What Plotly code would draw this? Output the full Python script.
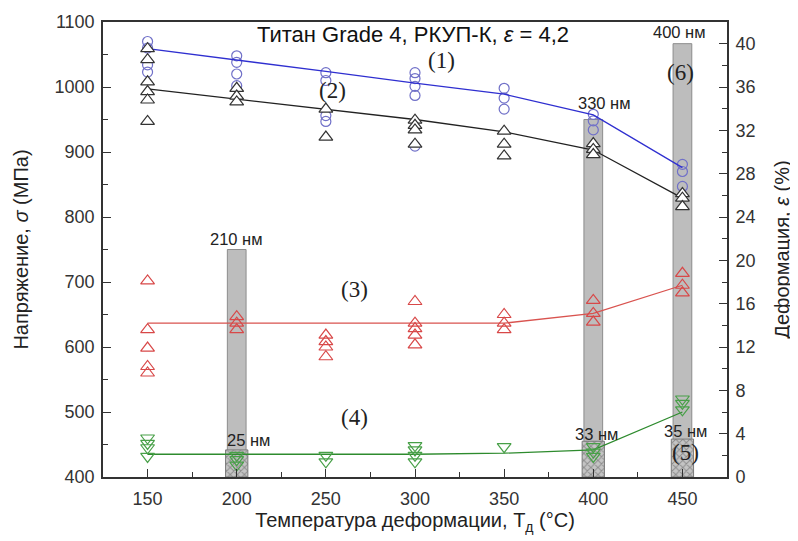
import plotly.graph_objects as go

# ---------------- data ----------------
temps = [150, 200, 250, 300, 350, 400, 450]

# (1) blue circles, stress (MPa)
sigma1_pts = [
    [1070, 1060, 1034, 1023],
    [1048, 1038, 1020, 1002],
    [1022, 1010, 956, 947],
    [1022, 1013, 1001, 987, 909],
    [998, 983, 966],
    [958, 948, 934],
    [881, 870, 847],
]
sigma1_fit = [1059, 1042, 1024, 1006, 989, 957, 876]

# (2) black triangles, stress (MPa)
sigma2_pts = [
    [1059, 1042, 1008, 993, 980, 947],
    [998, 986, 977],
    [966, 923],
    [949, 941, 934, 912],
    [932, 912, 894],
    [913, 904, 896],
    [836, 829, 816],
]
sigma2_fit = [997, 981, 966, 950, 931, 903, 829]

# (3) red triangles, deformation (%)
eps3_pts = [
    [18.1, 13.6, 11.9, 10.2, 9.6],
    [14.8, 14.2, 13.6],
    [13.1, 12.5, 12.0, 11.1],
    [16.2, 14.2, 13.7, 13.1, 12.2],
    [15.0, 14.2, 13.6],
    [16.3, 15.1, 14.3],
    [18.8, 17.7, 17.0],
]
eps3_fit = [14.2, 14.2, 14.2, 14.2, 14.2, 15.1, 17.7]

# (4) green down-triangles, deformation (%)
eps4_pts = [
    [3.6, 3.1, 2.7, 1.9],
    [2.0, 1.6, 1.1],
    [2.0, 1.4],
    [2.9, 2.5, 2.0, 1.4],
    [2.8],
    [2.8, 2.3, 1.9],
    [7.2, 6.8, 6.2],
]
eps4_fit = [2.1, 2.1, 2.1, 2.1, 2.2, 2.5, 6.0]

# grain sizes (bars, nm/10 on right axis)
bar_T = [200, 400, 450]
grain_large = [21, 33, 40]
grain_large_lbl = ["210 нм", "330 нм", "400 нм"]
grain_small = [2.5, 3.3, 3.5]
grain_small_lbl = ["25 нм", "33 нм", "35 нм"]


def flat(pts):
    xs, ys = [], []
    for t, vals in zip(temps, pts):
        for v in vals:
            xs.append(t)
            ys.append(v)
    return xs, ys


FONT = "Arial, 'Liberation Sans', sans-serif"
SERIF = "'Times New Roman', 'Liberation Serif', serif"

fig = go.Figure()

# bars (right axis = primary 'y', drawn beneath)
fig.add_trace(go.Bar(x=bar_T, y=grain_large, width=10.5, yaxis="y",
                     marker=dict(color="#bdbdbd", line=dict(color="#8c8c8c", width=1)),
                     showlegend=False))
fig.add_trace(go.Bar(x=bar_T, y=grain_small, width=12.5, yaxis="y",
                     marker=dict(color="#c4c4c4",
                                 line=dict(color="#7a7a7a", width=1),
                                 pattern=dict(shape="x", fgcolor="#555555",
                                              bgcolor="#c4c4c4", size=5, solidity=0.35)),
                     showlegend=False))

# (3) red
x3, y3 = flat(eps3_pts)
fig.add_trace(go.Scatter(x=temps, y=eps3_fit, mode="lines", yaxis="y",
                         line=dict(color="#d9534f", width=1.3), showlegend=False))
fig.add_trace(go.Scatter(x=x3, y=y3, mode="markers", yaxis="y",
                         marker=dict(symbol="triangle-up-open", size=12,
                                     color="#d84848", line=dict(width=1.2)),
                         showlegend=False))
# (4) green
x4, y4 = flat(eps4_pts)
fig.add_trace(go.Scatter(x=temps, y=eps4_fit, mode="lines", yaxis="y",
                         line=dict(color="#2e8b2e", width=1.3), showlegend=False))
fig.add_trace(go.Scatter(x=x4, y=y4, mode="markers", yaxis="y",
                         marker=dict(symbol="triangle-down-open", size=12,
                                     color="#48a048", line=dict(width=1.2)),
                         showlegend=False))

# (1) blue on stress axis (y2, left)
x1, y1 = flat(sigma1_pts)
fig.add_trace(go.Scatter(x=x1, y=y1, mode="markers", yaxis="y2",
                         marker=dict(symbol="circle-open", size=10,
                                     color="#7070c8", line=dict(width=1.2)),
                         showlegend=False))
fig.add_trace(go.Scatter(x=temps, y=sigma1_fit, mode="lines", yaxis="y2",
                         line=dict(color="#2f2fd0", width=1.3), showlegend=False))
# (2) black
x2, y2 = flat(sigma2_pts)
fig.add_trace(go.Scatter(x=temps, y=sigma2_fit, mode="lines", yaxis="y2",
                         line=dict(color="#222222", width=1.3), showlegend=False))
fig.add_trace(go.Scatter(x=x2, y=y2, mode="markers", yaxis="y2",
                         marker=dict(symbol="triangle-up", size=12, color="white",
                                     line=dict(color="#333333", width=1.2)),
                         showlegend=False))

ann = []
# bar labels
for t, h, lbl, dx, dy in zip(bar_T, grain_large, grain_large_lbl, [0, 11, -3], [0, 6, 1]):
    ann.append(dict(x=t, y=h, xref="x", yref="y", text=lbl, showarrow=False,
                    yanchor="bottom", xshift=dx, yshift=dy,
                    font=dict(family=FONT, size=16.5, color="#222")))
for t, h, lbl, dx, dy in zip(bar_T, grain_small, grain_small_lbl, [12, 3, 3], [-1, -4, -3]):
    ann.append(dict(x=t, y=h, xref="x", yref="y", text=lbl, showarrow=False,
                    yanchor="bottom", xshift=dx, yshift=dy,
                    font=dict(family=FONT, size=16.5, color="#222")))

# series labels
series_lbl = [("(1)", 315, 1041), ("(2)", 254, 995), ("(3)", 266, 688),
              ("(4)", 266, 491), ("(5)", 452, 438), ("(6)", 449, 1022)]
for txt, xv, yv in series_lbl:
    ann.append(dict(x=xv, y=yv, xref="x", yref="y2", text=txt, showarrow=False,
                    font=dict(family=SERIF, size=23, color="#222")))

ann.append(dict(x=0.497, y=0.972, xref="paper", yref="paper",
                xanchor="center", yanchor="middle",
                text="Титан Grade 4, РКУП-К, <i>ε</i> = 4,2", showarrow=False,
                font=dict(family=FONT, size=22, color="#111")))

axis_common = dict(showline=True, linecolor="#333", linewidth=1.6,
                   ticks="inside", tickcolor="#333", tickwidth=1.3, ticklen=8,
                   showgrid=False, zeroline=False, automargin=False,
                   tickfont=dict(family=FONT, size=18, color="#333"))

# page has an 8px body margin; figure sized so that it fits the 798x541 window
fig.update_layout(
    width=790, height=533,
    margin=dict(l=95, r=71, t=14, b=64),
    paper_bgcolor="white", plot_bgcolor="white",
    barmode="overlay",
    showlegend=False,
    annotations=ann,
    xaxis=dict(range=[125, 475], tickvals=temps, mirror=True,
               minor=dict(dtick=25, tick0=125, ticks="inside", ticklen=5, tickcolor="#333"),
               ticklabelstandoff=5,
               title=dict(text="Температура деформации, T<sub>д</sub> (°C)",
                          font=dict(family=FONT, size=20, color="#222"), standoff=4),
               **axis_common),
    yaxis=dict(range=[0, 42], side="right", tick0=0, dtick=4,
               minor=dict(dtick=2, ticks="inside", ticklen=5, tickcolor="#333"),
               ticklabelstandoff=3,
               title=dict(text="Деформация, <i>ε</i> (%)",
                          font=dict(family=FONT, size=20, color="#222"), standoff=21),
               **axis_common),
    yaxis2=dict(range=[400, 1100], side="left", overlaying="y", tick0=400, dtick=100,
                minor=dict(dtick=50, ticks="inside", ticklen=5, tickcolor="#333"),
                ticklabelstandoff=3,
                title=dict(text="Напряжение, <i>σ</i> (МПа)",
                           font=dict(family=FONT, size=20, color="#222"), standoff=21),
                **axis_common),
)

fig.write_html("out.html")
